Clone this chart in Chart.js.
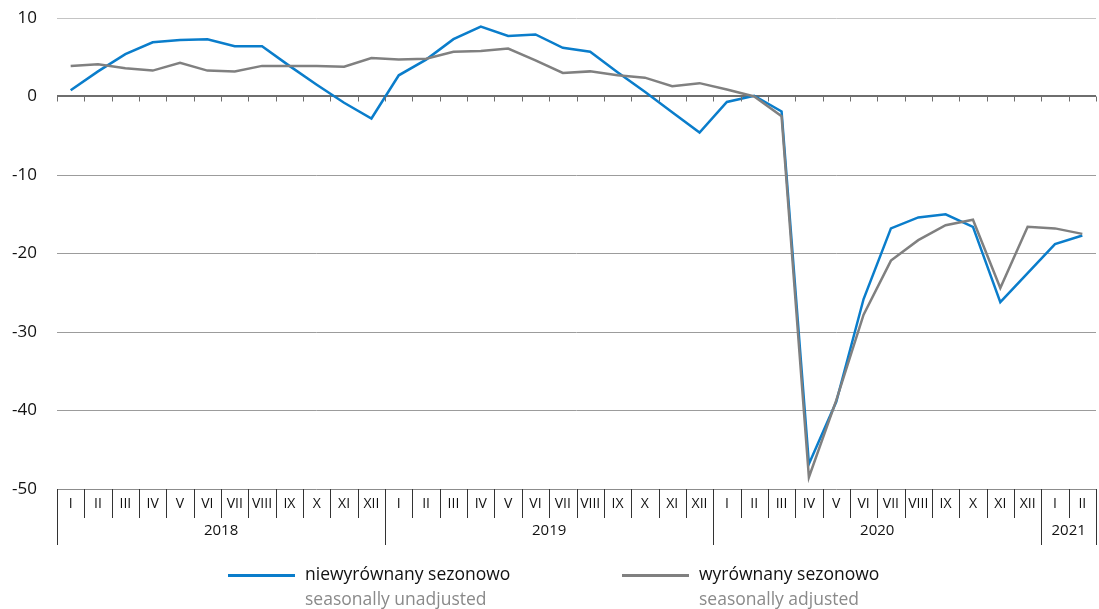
<!DOCTYPE html>
<html>
<head>
<meta charset="utf-8">
<script src="https://cdn.jsdelivr.net/npm/chart.js@4"></script>
<style>
  body { margin: 0; background: #fff; }
  #wrap { position: relative; width: 1099px; height: 609px; font-family: "Open Sans", "Noto Sans", sans-serif; }
  canvas { position: absolute; left: 0; top: 0; }
  .leg { position: absolute; top: 562px; }
  .leg .swatch { position: absolute; top: 12px; height: 3px; width: 67px; }
  .leg .pl { position: absolute; left: 77px; top: 0; font-size: 17.5px; color: #111; white-space: nowrap; line-height: 22px; }
  .leg .en { position: absolute; left: 77px; top: 25px; font-size: 17.5px; color: #8a8a8a; white-space: nowrap; line-height: 22px; }
</style>
</head>
<body>
<div id="wrap">
  <canvas id="chart" width="1099" height="609"></canvas>
  <div class="leg" style="left:228px">
    <div class="swatch" style="background:#0a7dcb"></div>
    <div class="pl">niewyrównany sezonowo</div>
    <div class="en">seasonally unadjusted</div>
  </div>
  <div class="leg" style="left:622px">
    <div class="swatch" style="background:#808080"></div>
    <div class="pl">wyrównany sezonowo</div>
    <div class="en">seasonally adjusted</div>
  </div>
</div>
<script>
// Month labels (Roman numerals), 2018-I .. 2021-II
const monthLabels = [
  "I", "II", "III", "IV", "V", "VI", "VII", "VIII", "IX", "X", "XI", "XII",
  "I", "II", "III", "IV", "V", "VI", "VII", "VIII", "IX", "X", "XI", "XII",
  "I", "II", "III", "IV", "V", "VI", "VII", "VIII", "IX", "X", "XI", "XII",
  "I", "II",
];
const yearLabels = ["2018", "2019", "2020", "2021"];
const yearSpans = [12, 12, 12, 2];

// Series values
const unadjusted = [
  0.8, 3.2, 5.4, 6.9, 7.2, 7.3, 6.4, 6.4, 3.9, 1.5, -0.8, -2.8,
  2.7, 4.7, 7.3, 8.9, 7.7, 7.9, 6.2, 5.7, 3.1, 0.6, -2.0, -4.6,
  -0.7, 0.1, -1.9, -46.8, -38.9, -25.8, -16.8, -15.4, -15.0, -16.6, -26.2, -22.5,
  -18.8, -17.7,
];
const adjusted = [
  3.9, 4.1, 3.6, 3.3, 4.3, 3.3, 3.2, 3.9, 3.9, 3.9, 3.8, 4.9,
  4.7, 4.8, 5.7, 5.8, 6.1, 4.6, 3.0, 3.2, 2.7, 2.4, 1.3, 1.7,
  0.9, 0.0, -2.5, -48.5, -38.7, -27.8, -20.9, -18.3, -16.4, -15.7, -24.4, -16.6,
  -16.8, -17.5,
];

const yMin = -50;
const yMax = 10;
const yStep = 10;

// Draws the zero-line ticks and the month / year table under the plot
const axisTable = {
  id: "axisTable",
  afterDraw(chart) {
    const ctx = chart.ctx;
    const x = chart.scales.x;
    const y = chart.scales.y;
    const area = chart.chartArea;
    const cell = x.getPixelForValue(1) - x.getPixelForValue(0);
    const edge = (i) => x.getPixelForValue(i) - cell / 2;
    const y0 = y.getPixelForValue(0);
    const top = area.bottom;
    const monthBottom = top + 29;
    const yearBottom = top + 56;

    ctx.save();
    // ticks under zero line
    ctx.strokeStyle = "#6e6e6e";
    ctx.lineWidth = 1;
    ctx.beginPath();
    for (let i = 0; i <= monthLabels.length; i++) {
      const px = Math.round(edge(i)) + 0.5;
      ctx.moveTo(px, y0);
      ctx.lineTo(px, y0 + 5);
    }
    ctx.stroke();

    // month separators
    ctx.strokeStyle = "#333";
    ctx.beginPath();
    for (let i = 0; i <= monthLabels.length; i++) {
      const px = Math.round(edge(i)) + 0.5;
      ctx.moveTo(px, top);
      ctx.lineTo(px, monthBottom);
    }
    // year separators
    let idx = 0;
    const bounds = [0];
    yearSpans.forEach((n) => { idx += n; bounds.push(idx); });
    bounds.forEach((b) => {
      const px = Math.round(edge(b)) + 0.5;
      ctx.moveTo(px, monthBottom);
      ctx.lineTo(px, yearBottom);
    });
    ctx.stroke();

    // labels
    ctx.fillStyle = "#111";
    ctx.textAlign = "center";
    ctx.textBaseline = "middle";
    ctx.font = '14px "Open Sans", "Noto Sans", sans-serif';
    monthLabels.forEach((m, i) => {
      ctx.fillText(m, x.getPixelForValue(i), top + 15);
    });
    ctx.font = '15px "Open Sans", "Noto Sans", sans-serif';
    yearLabels.forEach((yl, i) => {
      const cx = (edge(bounds[i]) + edge(bounds[i + 1])) / 2;
      ctx.fillText(yl, cx, monthBottom + 13);
    });
    ctx.restore();
  },
};

const ctx = document.getElementById("chart").getContext("2d");
const chart = new Chart(ctx, {
  type: "line",
  data: {
    labels: monthLabels,
    datasets: [
      {
        label: "wyrównany sezonowo",
        data: adjusted,
        borderColor: "#808080",
        borderWidth: 2.5,
        pointRadius: 0,
        tension: 0,
      },
      {
        label: "niewyrównany sezonowo",
        data: unadjusted,
        borderColor: "#0a7dcb",
        borderWidth: 2.5,
        pointRadius: 0,
        tension: 0,
      },
    ],
  },
  options: {
    responsive: false,
    animation: false,
    layout: { padding: { top: 18, right: 3, bottom: 120, left: 0 } },
    plugins: {
      legend: { display: false },
      tooltip: { enabled: false },
    },
    scales: {
      x: {
        display: false,
        offset: true,
      },
      y: {
        min: yMin,
        max: yMax,
        afterFit: (s) => {
          s.width = 57;
          s.paddingTop = 0;
          s.paddingBottom = 0;
        },
        border: { display: false },
        grid: {
          drawTicks: false,
          color: (c) => {
            const v = c.tick.value;
            if (v === yMax) return "#c4c4c4";
            if (v === 0) return "#6e6e6e";
            if (v === yMin) return "#8c8c8c";
            return "#9c9c9c";
          },
          lineWidth: (c) => (c.tick.value === 0 ? 2 : 1),
        },
        ticks: {
          stepSize: yStep,
          padding: 20,
          color: "#111",
          font: { family: '"Open Sans", "Noto Sans", sans-serif', size: 17 },
        },
      },
    },
  },
  plugins: [axisTable],
});
</script>
</body>
</html>
